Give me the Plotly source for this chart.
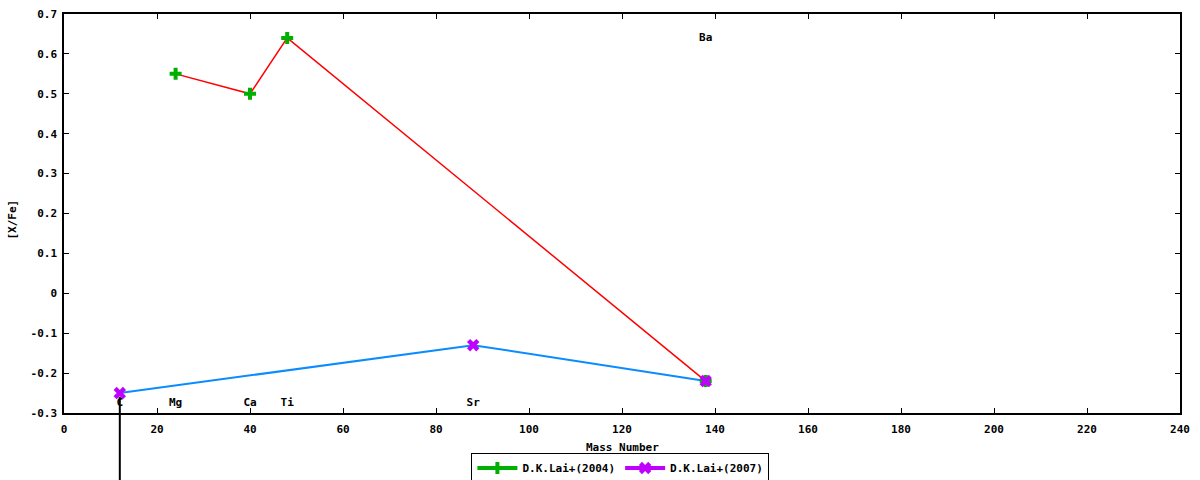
import plotly.graph_objects as go

# D.K.Lai+(2004): abundances [X/Fe] vs mass number
mass_2004 = [24, 40, 48, 138]
xfe_2004 = [0.55, 0.50, 0.64, -0.22]

# D.K.Lai+(2007)
mass_2007 = [12, 88, 138]
xfe_2007 = [-0.25, -0.13, -0.22]

# element labels
elements = ["C", "Mg", "Ca", "Ti", "Sr", "Ba"]
elem_mass = [12, 24, 40, 48, 88, 138]
elem_y = [-0.275, -0.275, -0.275, -0.275, -0.275, 0.64]

# upper limit (C)
limit_mass = 12
limit_y = -0.26

# tick labels
x_ticks = [0, 20, 40, 60, 80, 100, 120, 140, 160, 180, 200, 220, 240]
y_ticks = [-0.3, -0.2, -0.1, 0, 0.1, 0.2, 0.3, 0.4, 0.5, 0.6, 0.7]
y_ticktext = ["-0.3", "-0.2", "-0.1", "0", "0.1", "0.2", "0.3", "0.4", "0.5", "0.6", "0.7"]

font = dict(family="DejaVu Sans Mono", size=11, color="black", weight="bold")

fig = go.Figure()

# connecting lines
fig.add_trace(go.Scatter(x=mass_2004, y=xfe_2004, mode="lines",
                         line=dict(color="#ff0000", width=1.5),
                         showlegend=False, hoverinfo="skip"))
fig.add_trace(go.Scatter(x=mass_2007, y=xfe_2007, mode="lines",
                         line=dict(color="#0a8cff", width=2),
                         showlegend=False, hoverinfo="skip"))

# points
fig.add_trace(go.Scatter(x=mass_2004, y=xfe_2004, mode="markers",
                         marker=dict(symbol="cross", size=10, color="#00b000"),
                         name="D.K.Lai+(2004)", showlegend=False))
fig.add_trace(go.Scatter(x=mass_2007, y=xfe_2007, mode="markers",
                         marker=dict(symbol="x", size=11, color="#c000ff"),
                         name="D.K.Lai+(2007)", showlegend=False))

# legend samples
fig.add_trace(go.Scatter(x=[None], y=[None], mode="lines+markers",
                         line=dict(color="#00b000", width=4),
                         marker=dict(symbol="cross", size=10, color="#00b000"),
                         name="D.K.Lai+(2004)"))
fig.add_trace(go.Scatter(x=[None], y=[None], mode="lines+markers",
                         line=dict(color="#c000ff", width=4),
                         marker=dict(symbol="x", size=11, color="#c000ff"),
                         name="D.K.Lai+(2007)"))

# element labels
fig.add_trace(go.Scatter(x=elem_mass, y=elem_y, mode="text", text=elements,
                         textfont=font, showlegend=False, hoverinfo="skip",
                         cliponaxis=False))

# upper-limit arrow for C, running off below the axes
fig.add_shape(type="line", xref="x", yref="paper",
              x0=limit_mass, x1=limit_mass,
              y0=(limit_y + 0.3) / 1.0, y1=-0.2,
              line=dict(color="black", width=2))

# axis titles
fig.add_annotation(text="Mass Number", xref="paper", yref="paper",
                   x=0.5, y=0, yanchor="middle", yshift=-34,
                   showarrow=False, font=font)
fig.add_annotation(text="[X/Fe]", xref="paper", yref="paper",
                   x=0, y=0.5, xanchor="center", yanchor="middle",
                   xshift=-52, yshift=-6, textangle=-90,
                   showarrow=False, font=font)

axis_common = dict(showgrid=False, zeroline=False, showline=True,
                   linecolor="black", linewidth=1.5, mirror="ticks",
                   ticks="inside", ticklen=5, tickcolor="black",
                   tickfont=font, automargin=False)

fig.update_layout(
    width=1200, height=480,
    margin=dict(l=64, r=20, t=14, b=67),
    plot_bgcolor="white", paper_bgcolor="white",
    xaxis=dict(range=[0, 240], tickvals=x_ticks, ticklabelstandoff=5,
               **axis_common),
    yaxis=dict(range=[-0.3, 0.7], tickvals=y_ticks, ticktext=y_ticktext,
               ticklabelstandoff=3, **axis_common),
    legend=dict(orientation="h", xref="container", x=0.517, xanchor="center",
                yref="container", y=0.025, yanchor="middle",
                bordercolor="black", borderwidth=1, font=font,
                itemwidth=40, tracegroupgap=0),
    font=font,
)

# drop the default page margin so the figure sits at the window's corner
fig.write_html("out.html", config={"displayModeBar": False},
               post_script="document.body.style.margin='0';")
